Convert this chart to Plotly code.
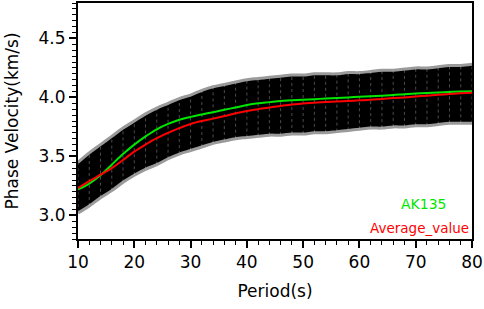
import plotly.graph_objects as go

periods = [10, 12, 14, 16, 18, 20, 22, 24, 26, 28, 30, 32, 34, 36, 38, 40, 42, 44,
           46, 48, 50, 52, 54, 56, 58, 60, 62, 64, 66, 68, 70, 72, 74, 76, 78, 80]

band_upper = [3.45, 3.53, 3.60, 3.67, 3.74, 3.80, 3.86, 3.91, 3.95, 3.99, 4.02, 4.06,
              4.09, 4.11, 4.13, 4.15, 4.16, 4.17, 4.18, 4.19, 4.19, 4.20, 4.20, 4.20,
              4.21, 4.21, 4.22, 4.23, 4.23, 4.24, 4.25, 4.25, 4.26, 4.27, 4.27, 4.28]

band_lower = [3.02, 3.08, 3.15, 3.21, 3.28, 3.34, 3.39, 3.43, 3.48, 3.52, 3.55, 3.58,
              3.61, 3.63, 3.65, 3.66, 3.67, 3.68, 3.68, 3.69, 3.69, 3.70, 3.70, 3.71,
              3.72, 3.73, 3.74, 3.74, 3.75, 3.75, 3.76, 3.76, 3.77, 3.78, 3.78, 3.78]

ak135 = [3.22, 3.27, 3.34, 3.43, 3.52, 3.60, 3.67, 3.73, 3.775, 3.81, 3.835, 3.855,
         3.875, 3.895, 3.915, 3.935, 3.95, 3.96, 3.97, 3.975, 3.98, 3.985, 3.99, 3.995,
         4.00, 4.005, 4.01, 4.015, 4.02, 4.027, 4.033, 4.038, 4.042, 4.046, 4.05, 4.052]

average_value = [3.23, 3.29, 3.345, 3.40, 3.47, 3.54, 3.60, 3.655, 3.70, 3.74, 3.775, 3.80,
                 3.82, 3.842, 3.865, 3.885, 3.90, 3.915, 3.928, 3.94, 3.948, 3.955, 3.96, 3.965,
                 3.97, 3.975, 3.98, 3.987, 3.994, 4.00, 4.008, 4.015, 4.022, 4.029, 4.035, 4.04]

FONT = "DejaVu Sans, Liberation Sans, Arial, sans-serif"

fig = go.Figure()

# dispersion-curve band: lower edge then filled up to upper edge
fig.add_trace(go.Scatter(x=periods, y=band_lower, mode="lines",
                         line=dict(color="#9a9a9a", width=3, shape="spline"),
                         hoverinfo="skip", showlegend=False))
fig.add_trace(go.Scatter(x=periods, y=band_upper, mode="lines", fill="tonexty",
                         fillcolor="black",
                         line=dict(color="#9a9a9a", width=3, shape="spline"),
                         hoverinfo="skip", showlegend=False))

# faint vertical striping of the band at each sampled period
sx, sy = [], []
for p, lo, hi in zip(periods, band_lower, band_upper):
    sx += [p, p, None]
    sy += [lo, hi, None]
fig.add_trace(go.Scatter(x=sx, y=sy, mode="lines",
                         line=dict(color="rgba(190,190,190,0.4)", width=1, dash="dot"),
                         hoverinfo="skip", showlegend=False))

fig.add_trace(go.Scatter(x=periods, y=ak135, mode="lines", name="AK135",
                         line=dict(color="#00e600", width=2, shape="spline"),
                         showlegend=False))
fig.add_trace(go.Scatter(x=periods, y=average_value, mode="lines", name="Average_value",
                         line=dict(color="#ff0000", width=2, shape="spline"),
                         showlegend=False))

# in-plot text legend
fig.add_annotation(x=71.4, y=(239 - 204) / 236, xref="x", yref="paper", text="AK135",
                   showarrow=False, xanchor="center", yanchor="middle",
                   font=dict(color="#00e600", size=14, family=FONT))
fig.add_annotation(x=79.9, y=(239 - 228) / 236, xref="x", yref="paper",
                   text="Average_value", showarrow=False, xanchor="right",
                   yanchor="middle",
                   font=dict(color="#ff0000", size=13.5, family=FONT))

tickfont = dict(size=17, family=FONT, color="black")
axis_common = dict(showline=True, linecolor="black", linewidth=2, mirror=True,
                   showgrid=False, zeroline=False, ticks="outside", ticklen=7,
                   tickwidth=1.5, tickcolor="black", tickfont=tickfont,
                   automargin=False)

fig.update_xaxes(range=[10, 80], tickmode="linear", tick0=10, dtick=10,
                 title=dict(text="Period(s)", font=tickfont, standoff=14),
                 minor=dict(dtick=2, tick0=10, ticklen=4, ticks="outside",
                            tickwidth=1.2, tickcolor="black"),
                 **axis_common)
fig.update_yaxes(range=[2.8, 4.8], tickmode="linear", tick0=3.0, dtick=0.5,
                 tickformat=".1f",
                 title=dict(text="Phase Velocity(km/s)", font=tickfont, standoff=16),
                 minor=dict(dtick=0.05, tick0=3.0, ticklen=4, ticks="outside",
                            tickwidth=1.2, tickcolor="black"),
                 **axis_common)

fig.update_layout(width=484, height=309, plot_bgcolor="white", paper_bgcolor="white",
                  margin=dict(l=78, r=12, t=3, b=70),
                  font=dict(family=FONT, color="black"))

fig.write_html("out.html", config={"displayModeBar": False},
               post_script="document.body.style.margin='0px';document.body.style.padding='0px';")
